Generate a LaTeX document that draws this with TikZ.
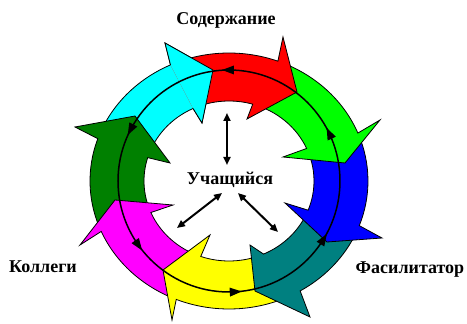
\documentclass[tikz,border=0pt]{standalone}
\usepackage{fontspec}
\setmainfont{Liberation Serif}
\usetikzlibrary{arrows.meta}
\definecolor{cgreen}{RGB}{0,255,0}
\definecolor{cteal}{RGB}{0,128,128}
\definecolor{cdkgreen}{RGB}{0,128,0}
\definecolor{cblue}{RGB}{0,0,255}
\definecolor{cred}{RGB}{255,0,0}
\definecolor{cyellow}{RGB}{255,255,0}
\definecolor{cmagenta}{RGB}{255,0,255}
\definecolor{ccyan}{RGB}{0,255,255}
% #1 colour, #2 tail outer angle, #3 tail inner angle, #4 own outer angle,
% #5 own inner angle, #6 outer barb, #7 tip, #8 inner barb
\newcommand\ringarrow[8]{%
  \path[fill=#1, outl] (#2:139 and 128)
    arc[start angle=#2, end angle=#4, x radius=139, y radius=128]
    -- #6 -- #7 -- #8 -- (#5:85 and 80)
    arc[start angle=#5, end angle=#3, x radius=85, y radius=80];
}
\begin{document}
\begin{tikzpicture}[x=1pt,y=1pt,
  outl/.style={draw=black, line width=0.8pt, line join=miter},
  lbl/.style={font=\fontsize{18}{20}\selectfont\bfseries, inner sep=0pt, anchor=base},
  dbl/.style={line width=2pt, {Triangle[length=8pt,width=7pt]}-{Triangle[length=8pt,width=7pt]}},
  ringline/.style={line width=1.5pt, draw=black}]
\useasboundingbox (-229,-143) rectangle (238,181);

% coloured ring of arrows (clockwise)
\ringarrow{ccyan}{160.7}{163.0}{114.9}{115.0}{(-64,138)}{(-16,111)}{(-27,58)}
\ringarrow{cdkgreen}{203.2}{203.2}{160.7}{163.0}{(-154,54)}{(-94,65)}{(-59,18)}
\ringarrow{cmagenta}{-112.3}{-109.4}{-156.8}{-156.8}{(-149,-64)}{(-114,-19)}{(-56,-24)}
\ringarrow{cyellow}{-59.2}{-66}{-112.3}{-109.4}{(-57,-139)}{(-66,-89)}{(-19,-54)}
\ringarrow{cteal}{-20.4}{-21.4}{-59.2}{-66}{(81,-136)}{(26,-110)}{(21,-64)}
\ringarrow{cblue}{22.0}{24.0}{-20.4}{-21.4}{(153,-57)}{(98,-61)}{(56,-22)}
\ringarrow{cgreen}{69.4}{73.8}{22.0}{24.0}{(151,61)}{(116,18)}{(54,24)}
\ringarrow{cred}{114.9}{115.0}{69.4}{73.8}{(54,144)}{(68,89)}{(18,62)}
% cyan head on top of the red tail
\path[fill=ccyan] (115.0:85 and 80) -- (-27,58) -- (-16,111) -- (-64,138) -- (114.9:139 and 128) -- cycle;
\draw[outl] (115.0:85 and 80) -- (-27,58) -- (-16,111) -- (-64,138) -- (114.9:139 and 128);

% black inner circle with arrowheads (counter-clockwise)
\draw[ringline] (0,0) circle (111);
\foreach \a in {90,25,-32,-87,-145,152}
  \fill[shift={(\a:111)}, rotate=\a] (0,7) -- (-4.5,-5) -- (4.5,-5) -- cycle;

% labels
\node[lbl] (learner) at (1,-4) {Учащийся};
\node[lbl] (content) at (-3,156) {Содержание};
\node[lbl] (peers) at (-186,-92) {Коллеги};
\node[lbl] (facil) at (181,-93) {Фасилитатор};

% double arrows from the learner
\coordinate (up1) at (-2,68);
\coordinate (up2) at (-2,16);
\coordinate (ll1) at (-7,-12);
\coordinate (ll2) at (-52,-47);
\coordinate (lr1) at (9,-12);
\coordinate (lr2) at (49,-51);
\draw[dbl] (up1) -- (up2);
\draw[dbl] (ll1) -- (ll2);
\draw[dbl] (lr1) -- (lr2);
\end{tikzpicture}
\end{document}
